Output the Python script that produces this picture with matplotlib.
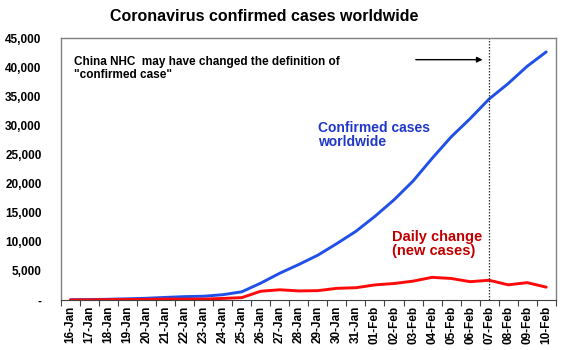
import numpy as np
import matplotlib
matplotlib.use('Agg')
import matplotlib.pyplot as plt
from matplotlib.ticker import FuncFormatter

plt.rcParams['font.family'] = ['Liberation Sans', 'DejaVu Sans']
plt.rcParams['font.weight'] = 'bold'

# dates on the x axis
dates = ['16-Jan', '17-Jan', '18-Jan', '19-Jan', '20-Jan', '21-Jan', '22-Jan',
         '23-Jan', '24-Jan', '25-Jan', '26-Jan', '27-Jan', '28-Jan', '29-Jan',
         '30-Jan', '31-Jan', '01-Feb', '02-Feb', '03-Feb', '04-Feb', '05-Feb',
         '06-Feb', '07-Feb', '08-Feb', '09-Feb', '10-Feb']

# cumulative confirmed cases worldwide
confirmed = [45, 62, 121, 198, 291, 440, 571, 640, 900, 1400, 2900, 4600,
             6100, 7700, 9700, 11800, 14380, 17205, 20438, 24324, 28018,
             31161, 34546, 37198, 40171, 42638]

# daily change (new cases)
daily = [0, 17, 59, 77, 93, 149, 131, 150, 260, 400, 1500, 1750, 1550, 1600,
         2000, 2100, 2590, 2825, 3233, 3886, 3694, 3143, 3385, 2600, 2973, 2200]

x = np.arange(len(dates))

fig = plt.figure(figsize=(5.7, 3.5), dpi=100)
ax = fig.add_axes([0.107, 0.143, 0.868, 0.748])

ax.plot(x, confirmed, color='#2050E8', lw=2.1, solid_capstyle='round')
ax.plot(x, daily, color='#FF0A0A', lw=2.1, solid_capstyle='round')

ax.set_xlim(-0.5, len(dates) - 0.5)
ax.set_ylim(0, 45000)
ax.set_yticks(np.arange(0, 45001, 5000))
ax.yaxis.set_major_formatter(FuncFormatter(lambda v, p: '-' if v == 0 else f'{int(v):,}'))
ax.tick_params(axis='y', length=0, pad=14, labelsize=8.5)

# x ticks sit between categories, labels at the centres
ax.set_xticks(np.arange(-0.5, len(dates), 1.0), minor=False)
ax.set_xticklabels([])
ax.set_xticks(x, minor=True)
ax.set_xticklabels(dates, minor=True, rotation=90, fontsize=8.5)
ax.tick_params(axis='x', which='major', length=4, direction='out', color='#404040')
ax.tick_params(axis='x', which='minor', length=0, pad=4)

for side in ['left', 'top', 'right']:
    ax.spines[side].set_color('#808080')
    ax.spines[side].set_linewidth(1.0)
ax.spines['bottom'].set_color('#404040')

# definition change marker
ax.axvline(dates.index('07-Feb'), color='#303030', ls=(0, (1.2, 1.2)), lw=0.9)
ax.annotate('', xy=(21.8, 41300), xytext=(18.0, 41300),
            arrowprops=dict(arrowstyle='-|>', color='black', lw=1.0,
                            mutation_scale=8))
ax.text(0.2, 42000, 'China NHC  may have changed the definition of\n"confirmed case"',
        fontsize=8.5, va='top', ha='left', linespacing=1.1)

ax.text(13.0, 30800, 'Confirmed cases\nworldwide', color='#2038C8', fontsize=10,
        va='top', ha='left', linespacing=1.0)
ax.text(16.9, 12000, 'Daily change\n(new cases)', color='#C00000', fontsize=10.5,
        va='top', ha='left', linespacing=1.0)

fig.suptitle('Coronavirus confirmed cases worldwide', x=0.463, y=0.975,
             fontsize=11.5, fontweight='bold')

fig.savefig('out.png', dpi=100)
